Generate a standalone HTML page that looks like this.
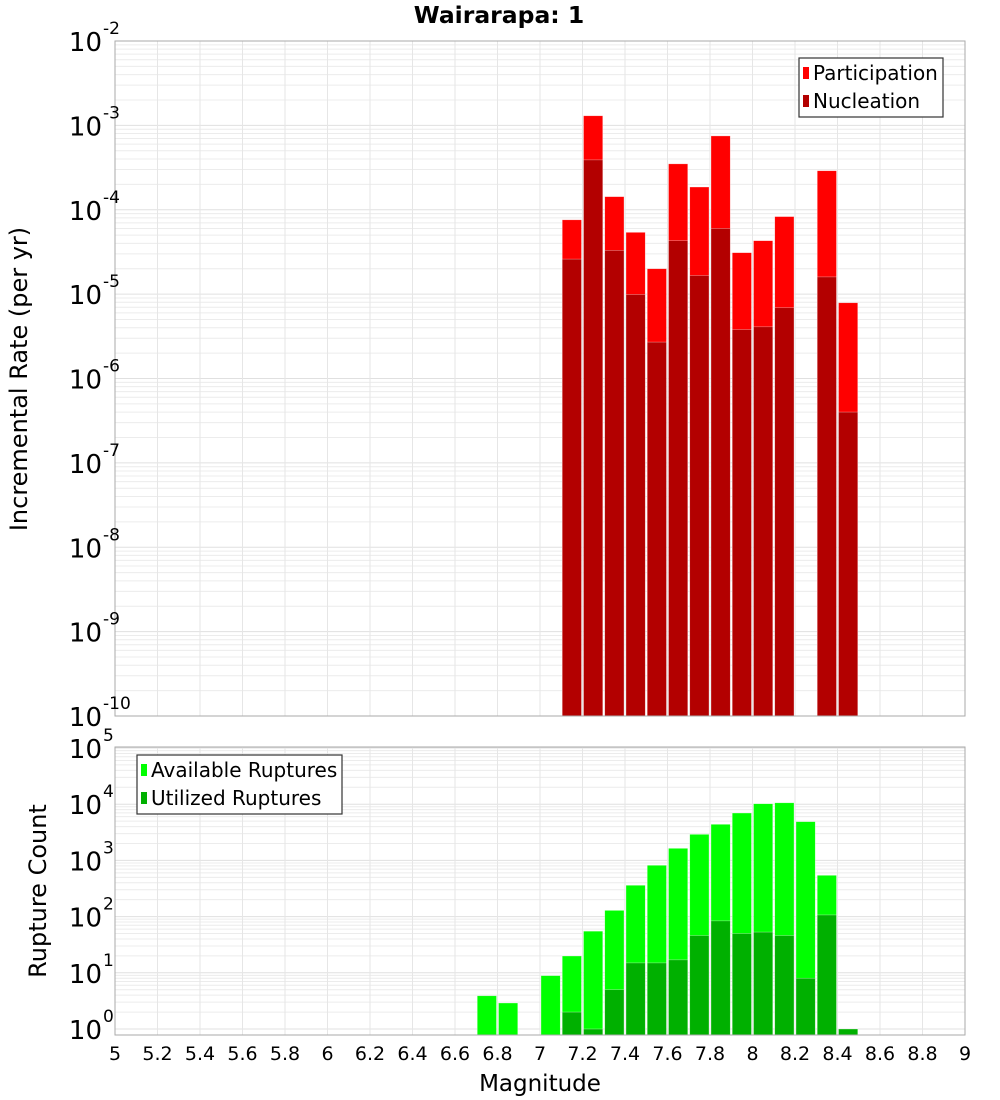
<!DOCTYPE html>
<html><head><meta charset="utf-8"><style>
html,body{margin:0;padding:0;background:#fff;}
svg{display:block;font-family:"DejaVu Sans","Liberation Sans",sans-serif;}
</style></head><body>
<svg id="c" width="1000" height="1100">
<text x="499" y="23" text-anchor="middle" font-size="23.5" font-weight="bold">Wairarapa: 1</text>
</svg>
<script>
const magBins=[6.75,6.85,6.95,7.05,7.15,7.25,7.35,7.45,7.55,7.65,7.75,7.85,7.95,8.05,8.15,8.25,8.35,8.45];
const participation=[0,0,0,0,7.6e-5,1.3e-3,1.43e-4,5.4e-5,2.0e-5,3.5e-4,1.86e-4,7.5e-4,3.1e-5,4.3e-5,8.3e-5,0,2.9e-4,7.9e-6];
const nucleation=[0,0,0,0,2.6e-5,3.9e-4,3.3e-5,9.9e-6,2.7e-6,4.3e-5,1.66e-5,6.0e-5,3.8e-6,4.1e-6,6.9e-6,0,1.6e-5,4.0e-7];
const available=[3.9,2.9,0,8.9,19.9,55,129,361,819,1640,2910,4390,6970,10200,10600,4890,543,1];
const utilized=[0,0,0,0,2,1,5,15,15,17,46,84,50,53,46,8,107,1];
const xTicks=[5,5.2,5.4,5.6,5.8,6,6.2,6.4,6.6,6.8,7,7.2,7.4,7.6,7.8,8,8.2,8.4,8.6,8.8,9];
const topExps=[-10,-9,-8,-7,-6,-5,-4,-3,-2];
const botExps=[0,1,2,3,4,5];

const NS="http://www.w3.org/2000/svg";
const svg=document.getElementById('c');
function mk(tag,attrs,parent){const e=document.createElementNS(NS,tag);for(const k in attrs)e.setAttribute(k,attrs[k]);(parent||svg).appendChild(e);return e;}
const X0=115,X1=965;
const x=m=>X0+(m-5)/4*(X1-X0);
const T={top:41,bot:716,lo:-10,hi:-2};
const B={top:747,bot:1035,lo:-0.107,hi:5.018};
function yT(v){return T.bot-(Math.log10(v)-T.lo)/(T.hi-T.lo)*(T.bot-T.top);}
function yB(v){return B.bot-(Math.log10(v)-B.lo)/(B.hi-B.lo)*(B.bot-B.top);}

function grid(P,yf,lo,hi,name){
  const g=mk('g',{});
  
  
  for(let e=Math.floor(lo);e<=Math.ceil(hi);e++){for(let k=1;k<10;k++){const v=k*Math.pow(10,e);const y=yf(v);if(y<P.top-0.5||y>P.bot+0.5)continue;
    mk('line',{x1:X0,x2:X1,y1:y,y2:y,stroke:k==1?'#e0e0e0':'#ececec','stroke-width':1},g);}}
  xTicks.forEach(t=>{const xx=x(t);mk('line',{x1:xx,x2:xx,y1:P.top,y2:P.bot,stroke:'#e6e6e6','stroke-width':1},g);});
}
grid(T,yT,T.lo,T.hi,'top-plot');
grid(B,yB,0,5,'bottom-plot');

function bars(vals,yf,P,color,name){
  const g=mk('g',{});
  
  
  vals.forEach((v,i)=>{if(!(v>0))return;const xl=x(magBins[i]-0.05)+1,xr=x(magBins[i]+0.05)-1;const y=Math.max(P.top,yf(v));
    const r=mk('rect',{x:xl,y:y,width:xr-xl,height:P.bot-y,fill:color,stroke:'rgba(255,255,255,0.5)','stroke-width':0.6},g);
    
    });
}
bars(participation,yT,T,'#ff0000','participation');
bars(nucleation,yT,T,'#b30000','nucleation');
bars(available,yB,B,'#00ff00','available-ruptures');
bars(utilized,yB,B,'#00b000','utilized-ruptures');

mk('rect',{x:X0,y:T.top,width:X1-X0,height:T.bot-T.top,fill:'none',stroke:'#aaa','stroke-width':1});
mk('rect',{x:X0,y:B.top,width:X1-X0,height:B.bot-B.top,fill:'none',stroke:'#aaa','stroke-width':1});

function yLabels(exps,yf,name){
  exps.forEach(e=>{const y=yf(Math.pow(10,e));const t=mk('text',{x:102,y:y+10,'text-anchor':'end','font-size':26});
    
    
    t.textContent='10';
    const s=mk('text',{x:103,y:y-7,'font-size':17});
    
    
    s.textContent=String(e);});
}
yLabels(topExps,yT,'top-y');
yLabels(botExps,yB,'bottom-y');

xTicks.forEach(t=>{const e=mk('text',{x:x(t),y:1060,'text-anchor':'middle','font-size':19});
  
  
  e.textContent=String(t);});

let at=mk('text',{x:540,y:1091,'text-anchor':'middle','font-size':23});
at.textContent='Magnitude';
at=mk('text',{x:0,y:0,'text-anchor':'middle','font-size':24,transform:'translate(27,379) rotate(-90)'});
at.textContent='Incremental Rate (per yr)';
at=mk('text',{x:0,y:0,'text-anchor':'middle','font-size':24,transform:'translate(46,891) rotate(-90)'});
at.textContent='Rupture Count';

function legend(lx,ly,w,items,name){
  const g=mk('g',{});
  
  
  mk('rect',{x:lx,y:ly,width:w,height:59,fill:'#fff',stroke:'#333','stroke-width':1.2},g);
  items.forEach((it,i)=>{const cy=ly+15+i*28;mk('rect',{x:lx+4,y:cy-6,width:6,height:12,fill:it[1]},g);
    const t=mk('text',{x:lx+14,y:cy+7,'font-size':20},g);
    
    
    t.textContent=it[0];});
}
legend(799,58,144,[['Participation','#ff0000'],['Nucleation','#b30000']],'top-legend');
legend(137,755,205,[['Available Ruptures','#00ff00'],['Utilized Ruptures','#00b000']],'bottom-legend');
</script>
</body></html>
